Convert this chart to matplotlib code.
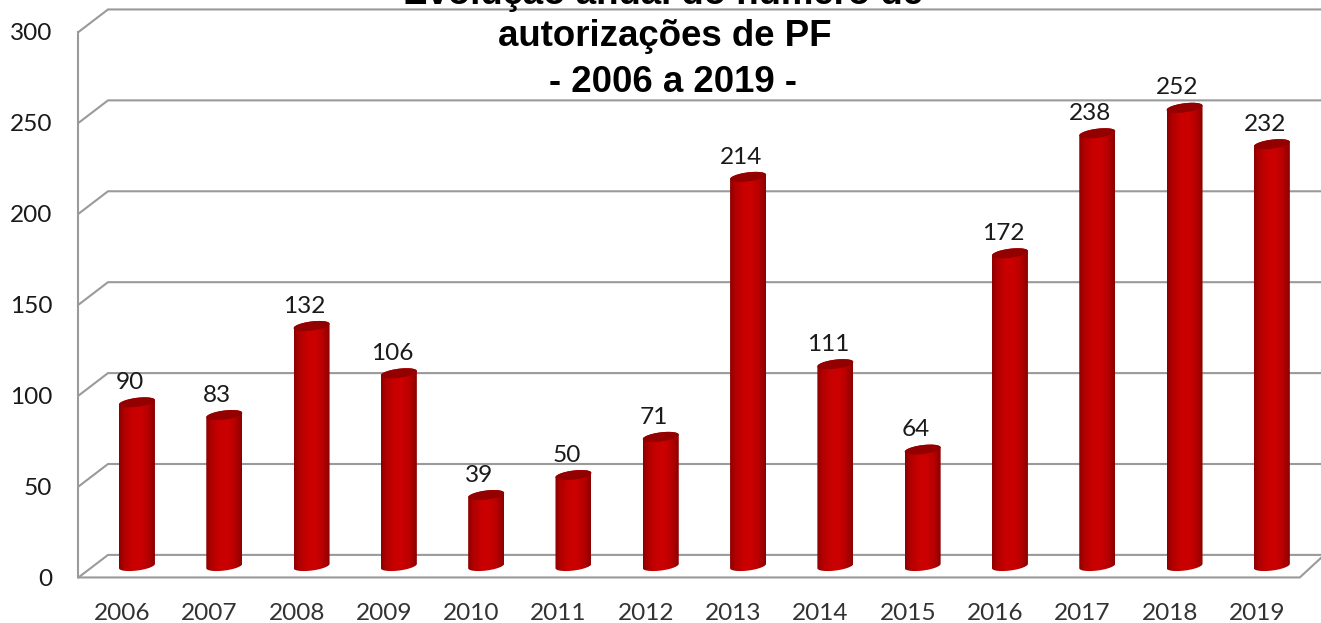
import numpy as np
import matplotlib
matplotlib.use('Agg')
import matplotlib.pyplot as plt
from matplotlib.path import Path
from matplotlib.patches import PathPatch

years = ['2006', '2007', '2008', '2009', '2010', '2011', '2012',
         '2013', '2014', '2015', '2016', '2017', '2018', '2019']
values = [90, 83, 132, 106, 39, 50, 71, 214, 111, 64, 172, 238, 252, 232]
y_ticks = [0, 50, 100, 150, 200, 250, 300]
title_lines = ['Evolução anual do número de', 'autorizações de PF', '- 2006 a 2019 -']

plt.rcParams['font.family'] = ['Lato', 'DejaVu Sans']

fig = plt.figure(figsize=(13.21, 6.23), dpi=100)
ax = fig.add_axes([0, 0, 1, 1])
ax.axis('off')

# data limits picked so the whole figure lines up with the picture
xlim = (-1.569, 13.563)
ylim = (-31.35, 311.3)

grid_col = '#9a9a9a'
front = -6.3    # floor offsets, in value units
back = 6.1
left_f, left_b = -0.67, -0.332
right_f, right_b = 13.32, 13.6

# walls and floor
for v in y_ticks:
    ax.plot([left_f, left_b, right_b], [v + front, v + back, v + back],
            color=grid_col, lw=1.5, solid_joinstyle='miter', zorder=1)
ax.plot([left_f, left_f], [y_ticks[0] + front, y_ticks[-1] + front], color=grid_col, lw=1.5, zorder=1)
ax.plot([left_f, right_f, right_b], [front, front, back], color=grid_col, lw=1.5, zorder=1)

# horizontal shading across a cylinder
stops = [0, 0.12, 0.35, 0.58, 0.8, 1]
reds = [0.55, 0.68, 0.78, 0.80, 0.72, 0.55]
shade = np.zeros((1, 64, 3))
shade[0, :, 0] = np.interp(np.linspace(0, 1, 64), stops, reds)

half_w = 0.206
cap_h = 2.5
tilt = 1.2
t = np.linspace(0, 2 * np.pi, 61)

for i, v in enumerate(values):
    # lower half of the base ellipse, then upper half of the top one
    tb = t[t <= np.pi]
    xb = i + half_w * np.cos(tb + np.pi)
    yb = -cap_h * np.sin(tb) + tilt * np.cos(tb + np.pi)
    xt = i + half_w * np.cos(tb)
    yt = v + cap_h * np.sin(tb) + tilt * np.cos(tb)
    verts = np.column_stack([np.r_[xb, xt], np.r_[yb, yt]])
    body = Path(np.vstack([verts, verts[0]]), closed=True)
    im = ax.imshow(shade, extent=(i - half_w, i + half_w, -5, v + 5), aspect='auto', zorder=3,
                   interpolation='bilinear')
    im.set_clip_path(PathPatch(body, transform=ax.transData))

    cap = np.column_stack([i + half_w * np.cos(t), v + cap_h * np.sin(t) + tilt * np.cos(t)])
    ax.fill(cap[:, 0], cap[:, 1], color='#930000', lw=0, zorder=4)

    ax.text(i - 0.08, v + 10.9, str(v), ha='center', va='center', fontsize=17.6, color='#1a1a1a', zorder=5)
    ax.text(i - 0.17, -26.4, years[i], ha='center', va='center', fontsize=17.6, color='#333333')

for v in y_ticks:
    ax.text(-0.97, v + front - 1.0, str(v), ha='right', va='center', fontsize=17.6, color='#1a1a1a')

# title runs off the top edge in the original
title_x = [6.02, 6.05, 6.14]
title_y = [309.1, 286.0, 260.7]
for k, line in enumerate(title_lines):
    ax.text(title_x[k], title_y[k], line, ha='center', va='baseline', fontsize=26.4, fontweight='bold',
            family='Liberation Sans', color='black', zorder=6)

ax.set_xlim(xlim)
ax.set_ylim(ylim)

fig.savefig('out.png', dpi=100)
